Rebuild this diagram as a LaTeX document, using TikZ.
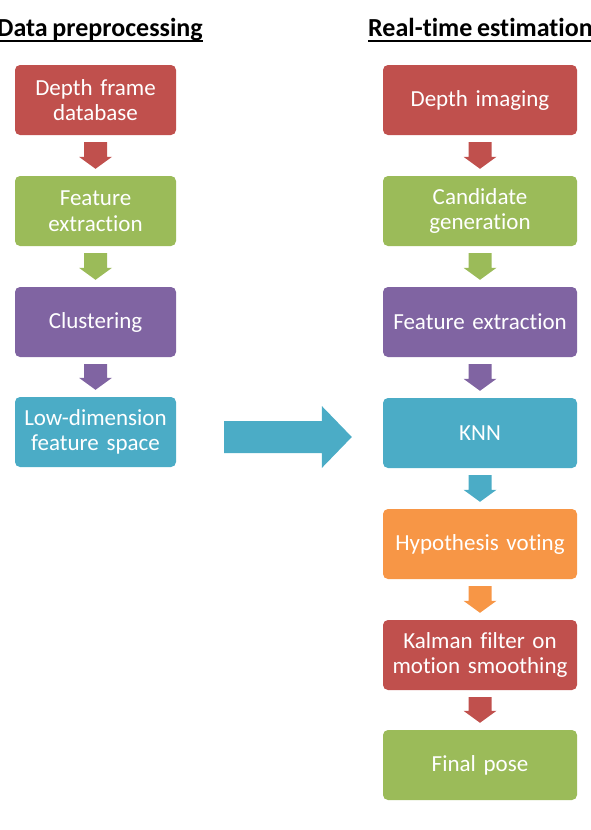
\documentclass[tikz,border=0pt]{standalone}
\usepackage{fontspec}
\setmainfont{Carlito}[Ligatures=NoCommon, WordSpace=0.8]
\usetikzlibrary{calc}
\definecolor{cred}{HTML}{C0504D}
\definecolor{cgreen}{HTML}{9BBB59}
\definecolor{cpurple}{HTML}{8064A2}
\definecolor{caqua}{HTML}{4BACC6}
\definecolor{corange}{HTML}{F79646}
\tikzset{
  box/.style={rounded corners=5pt, minimum height=70pt, inner sep=2pt,
    text=white, align=center, font=\fontsize{23}{25.5}\selectfont},
  lbox/.style={box, minimum width=161pt, text width=157pt},
  rbox/.style={box, minimum width=194pt, text width=190pt},
  titletext/.style={inner sep=0pt, font=\fontsize{26}{30}\selectfont\bfseries},
}
\newcommand\downarr[3]{%
  \fill[#3] let \p1=(#1.south), \p2=(#2.north) in
    (\x1-11.5pt,\y1-7pt) -- (\x1+11.5pt,\y1-7pt) -- (\x1+11.5pt,\y2+19pt)
    -- (\x1+16.5pt,\y2+19pt) -- (\x1,\y2+7pt) -- (\x1-16.5pt,\y2+19pt)
    -- (\x1-11.5pt,\y2+19pt) -- cycle;}
\begin{document}
\begin{tikzpicture}[x=1pt,y=-1pt]
\useasboundingbox (0,0) rectangle (591,830);
% titles
\node[titletext, anchor=base west] (t1) at (-3,36) {Data preprocessing};
\draw[line width=2pt] ($(t1.base west)+(0,5)$) -- ($(t1.base east)+(0,5)$);
\node[titletext, anchor=base west] (t2) at (368,36) {Real-time estimation};
\draw[line width=2pt] ($(t2.base west)+(0,5)$) -- ($(t2.base east)+(0,5)$);
% left column
\node[lbox, fill=cred] (l1) at (95.5,100) {Depth frame\\database};
\node[lbox, fill=cgreen] (l2) at (95.5,211) {Feature\\extraction};
\node[lbox, fill=cpurple] (l3) at (95.5,322) {Clustering};
\node[lbox, fill=caqua] (l4) at (95.5,432) {Low-dimension\\feature space};
% right column
\node[rbox, fill=cred] (r1) at (480,100) {Depth imaging};
\node[rbox, fill=cgreen] (r2) at (480,211) {Candidate\\generation};
\node[rbox, fill=cpurple] (r3) at (480,322) {Feature extraction};
\node[rbox, fill=caqua] (r4) at (480,433) {KNN};
\node[rbox, fill=corange] (r5) at (480,544) {Hypothesis voting};
\node[rbox, fill=cred] (r6) at (480,655) {Kalman filter on\\motion smoothing};
\node[rbox, fill=cgreen] (r7) at (480,765) {Final pose};
% arrows
\downarr{l1}{l2}{cred}
\downarr{l2}{l3}{cgreen}
\downarr{l3}{l4}{cpurple}
\downarr{r1}{r2}{cred}
\downarr{r2}{r3}{cgreen}
\downarr{r3}{r4}{cpurple}
\downarr{r4}{r5}{caqua}
\downarr{r5}{r6}{corange}
\downarr{r6}{r7}{cred}
% big arrow
\fill[caqua] let \p1=(l4.east), \p2=(r4.west) in
  (\x1+48pt,\y1-5pt+16pt) -- (\x2-61pt,\y1-5pt+16pt) -- (\x2-61pt,\y1-5pt+31pt)
  -- (\x2-31pt,\y1-5pt) -- (\x2-61pt,\y1-5pt-31pt) -- (\x2-61pt,\y1-5pt-16pt)
  -- (\x1+48pt,\y1-5pt-16pt) -- cycle;
\end{tikzpicture}
\end{document}
